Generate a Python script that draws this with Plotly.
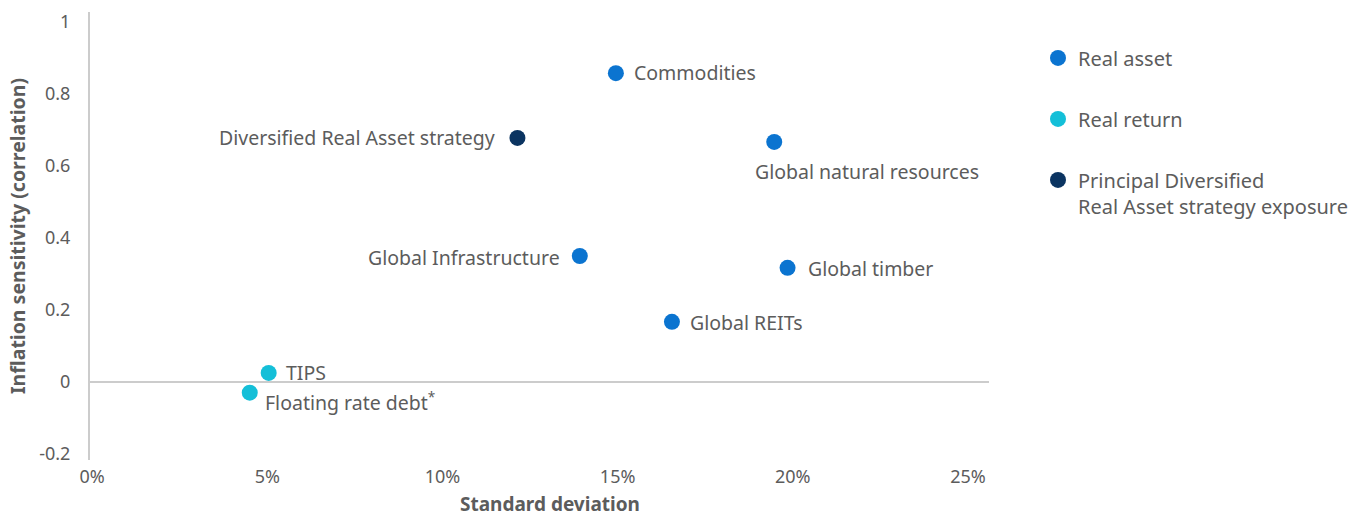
import plotly.graph_objects as go

# Asset classes: standard deviation (%) vs inflation sensitivity (correlation)
real_asset_names = ["Commodities", "Global natural resources", "Global Infrastructure",
                    "Global timber", "Global REITs"]
real_asset_sd = [14.95, 19.47, 13.92, 19.85, 16.55]
real_asset_corr = [0.858, 0.667, 0.350, 0.317, 0.167]

real_return_names = ["TIPS", "Floating rate debt<sup>*</sup>"]
real_return_sd = [5.04, 4.50]
real_return_corr = [0.025, -0.030]

strategy_names = ["Diversified Real Asset strategy"]
strategy_sd = [12.14]
strategy_corr = [0.678]

x_tick_vals = [0, 5, 10, 15, 20, 25]
x_tick_text = ["0%", "5%", "10%", "15%", "20%", "25%"]
y_tick_vals = [-0.2, 0, 0.2, 0.4, 0.6, 0.8, 1]
y_tick_text = ["-0.2", "0", "0.2", "0.4", "0.6", "0.8", "1"]

COL_REAL_ASSET = "#0b74d0"
COL_REAL_RETURN = "#14bfd8"
COL_STRATEGY = "#0b3461"
TEXT = "#5c5c5c"
FONT = "Noto Sans"

fig = go.Figure()

series = [
    ("Real asset", real_asset_sd, real_asset_corr, real_asset_names, COL_REAL_ASSET),
    ("Real return", real_return_sd, real_return_corr, real_return_names, COL_REAL_RETURN),
    ("Principal Diversified<br>Real Asset strategy exposure", strategy_sd, strategy_corr,
     strategy_names, COL_STRATEGY),
]
for i, (name, xs, ys, labels, col) in enumerate(series):
    fig.add_trace(go.Scatter(
        x=xs, y=ys, mode="markers", name=name, legendgroup=f"g{i}",
        marker=dict(size=16, color=col, line=dict(width=0)),
        hovertext=labels, hoverinfo="text+x+y", cliponaxis=False,
    ))

# Point labels: (anchor, xshift, yshift) per label
label_style = {
    "Commodities": ("left", 16, 1),
    "Global natural resources": ("left", -21, -30),
    "Global Infrastructure": ("right", -18, -2),
    "Global timber": ("left", 18, -1),
    "Global REITs": ("left", 16, -1),
    "TIPS": ("left", 15, 0),
    "Floating rate debt<sup>*</sup>": ("left", 13, -9),
    "Diversified Real Asset strategy": ("right", -20, 0),
}
for xs, ys, labels in [(real_asset_sd, real_asset_corr, real_asset_names),
                       (real_return_sd, real_return_corr, real_return_names),
                       (strategy_sd, strategy_corr, strategy_names)]:
    for x, y, lab in zip(xs, ys, labels):
        anchor, dx, dy = label_style[lab]
        fig.add_annotation(x=x, y=y, text=lab, showarrow=False, xanchor=anchor,
                           yanchor="middle", xshift=dx, yshift=dy,
                           font=dict(family=FONT, size=19.5, color=TEXT))

fig.add_annotation(xref="paper", yref="paper", x=0.5, y=0, xshift=10, yshift=-44,
                   text="<b>Standard deviation</b>", showarrow=False,
                   xanchor="center", yanchor="middle",
                   font=dict(family=FONT, size=19, color=TEXT))

fig.update_layout(
    width=1358, height=517,
    margin=dict(l=90, r=369, t=12, b=57, autoexpand=False),
    paper_bgcolor="white", plot_bgcolor="white",
    font=dict(family=FONT, size=18, color=TEXT),
    showlegend=True,
    legend=dict(x=1.0545, y=0.941, xanchor="left", yanchor="top",
                traceorder="grouped", tracegroupgap=32, valign="top",
                font=dict(family=FONT, size=20, color=TEXT),
                itemclick=False, itemdoubleclick=False),
    xaxis=dict(range=[-0.06, 25.6], tickvals=x_tick_vals, ticktext=x_tick_text,
               showgrid=False, zeroline=False, showline=False, ticks="",
               ticklabelstandoff=4,
               tickfont=dict(family=FONT, size=18, color=TEXT)),
    yaxis=dict(range=[-0.217, 1.028], tickvals=y_tick_vals, ticktext=y_tick_text,
               showgrid=False, zeroline=True, zerolinecolor="#cccccc", zerolinewidth=2,
               showline=True, linecolor="#cccccc", linewidth=2, ticks="",
               ticklabelstandoff=14,
               title=dict(text="<b>Inflation sensitivity (correlation)</b>",
                          font=dict(family=FONT, size=19.5, color=TEXT), standoff=8),
               tickfont=dict(family=FONT, size=18, color=TEXT)),
)

fig.write_html("out.html")
